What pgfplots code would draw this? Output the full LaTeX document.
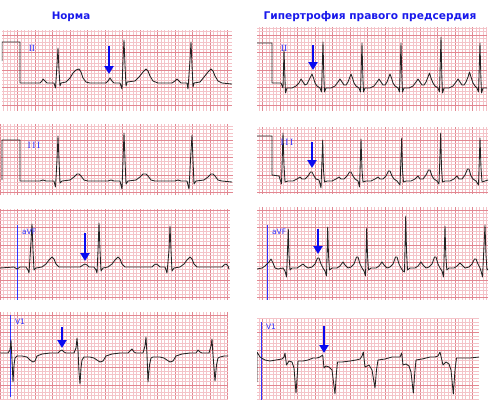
\documentclass[border=0pt]{standalone}
\usepackage{pgfplots}
\pgfplotsset{compat=1.18}
\usepackage{fontspec}
\setmainfont{DejaVu Sans}
\newfontfamily\lblserif{Liberation Serif}
\usetikzlibrary{arrows.meta}
\definecolor{majc}{RGB}{226,135,145}
\definecolor{minc}{RGB}{244,196,201}
\definecolor{ttl}{RGB}{25,25,235}
\definecolor{lbl}{RGB}{50,50,255}
\definecolor{arr}{RGB}{10,10,240}
\definecolor{trc}{RGB}{35,35,35}
\pgfplotsset{ecg/.style={scale only axis, anchor=north west, y dir=reverse,
  enlargelimits=false,
  xtick distance=17.5, ytick distance=17.5,
  minor x tick num=4, minor y tick num=4,
  grid=both,
  major grid style={color=majc, line width=0.6pt},
  minor grid style={color=minc, line width=0.45pt},
  xticklabels={}, yticklabels={},
  major tick length=0pt, minor tick length=0pt,
  axis line style={draw=none}},
  trace/.style={color=trc, line width=0.85pt, no marks, line join=round}}
\newcommand{\ecgarrow}[3]{\draw[-{Triangle[width=9pt,length=8pt]}, line width=2.6pt, arr] (axis cs:#1,#2) -- (axis cs:#1,#3);}
\begin{document}
\begin{tikzpicture}
\path[use as bounding box] (0pt,0pt) rectangle (495pt,-400pt);
\node[font=\bfseries\fontsize{10.3}{10.3}\selectfont, text=ttl] at (71pt,-17pt) {Норма};
\node[font=\bfseries\fontsize{10.6}{10.6}\selectfont, text=ttl] at (370pt,-17pt) {Гипертрофия правого предсердия};

% A: left II
\begin{axis}[ecg, at={(2pt,-30pt)}, width=230pt, height=81pt, xmin=2, xmax=232, ymin=30, ymax=111]
\addplot[trace] coordinates {(2,61)(2,42)(20,42)(20,83)(40,83)(42,81)(43,79)(45,81)(47,83)(54,83)(55.5,88)(57,65)(58,48)(59,70)(60,86)(61,83)(66,82)(70,78)(73,73)(76,70)(79,69)(81,72)(83,78)(86,82)(90,83)(106,83)(108,81)(110,78)(112,81)(114,83)(120,83)(122,89)(123,60)(124,40)(125,65)(126,86)(127,82)(135,81)(139,77)(143,72)(146,69)(148,71)(150,76)(153,81)(158,83)(172,83)(175,81)(177,79)(179,81)(181,83)(187,83)(188,89)(190,60)(191,42)(192,65)(193,87)(194,83)(200,82)(204,77)(208,72)(211,69)(213,71)(215,76)(218,81)(222,83)(232,84)};
\node[text=lbl, font=\lblserif\fontsize{9.5}{9.5}\selectfont] at (axis cs:32,48) {II};
\ecgarrow{109}{46}{74}
\end{axis}

% B: right II
\begin{axis}[ecg, at={(257pt,-27pt)}, width=230pt, height=84pt, xmin=257, xmax=487, ymin=27, ymax=111]
\addplot[trace] coordinates {(257,43)(272,43)(272,83)(281,83)(283,88)(284,50)(285,80)(285.5,93)(287,88)(292,88)(296,86)(299,83)(301,79)(303,82)(305,85)(307,84)(309,80)(310.5,77)(312,74)(313.5,78)(315,83)(317,86)(320,88)(321.5,92)(323,42)(323.8,75)(324.5,92)(326,88)(331,88)(335,86)(338,82)(340,79)(342,82)(344,85)(346,85)(348,82)(349.5,78)(351,74)(352.5,78)(354,83)(356,86)(359,88)(360.5,92)(362,43)(362.8,75)(363.5,92)(365,88)(370,88)(374,86)(377,82)(379,79)(381,82)(383,85)(385,85)(387,82)(388.5,78)(390,74)(391.5,78)(393,83)(395,86)(398,88)(399.5,92)(401,43)(401.8,75)(402.5,92)(404,88)(409,88)(413,86)(416,82)(418,79)(420,82)(422,85)(424,85)(426,82)(428,77)(429.5,73)(431,78)(433,83)(435,86)(438,88)(439.5,92)(441,37)(441.8,75)(442.5,93)(444,88)(449,88)(453,86)(456,82)(458,79)(460,82)(462,85)(464,85)(466,82)(468,77)(469.5,72)(471,77)(473,83)(475,86)(477,88)(478.5,92)(480,43)(480.8,75)(481.5,93)(483,88)(487,88)};
\node[text=lbl, font=\lblserif\fontsize{9.5}{9.5}\selectfont] at (axis cs:284,48) {II};
\ecgarrow{313}{45}{70}
\end{axis}

% C: left III
\begin{axis}[ecg, at={(0pt,-124pt)}, width=233pt, height=71pt, xmin=0, xmax=233, ymin=124, ymax=195]
\addplot[trace] coordinates {(2,180)(2,140)(20,140)(20,181)(40,181)(43,180)(46,181)(54,181)(55.5,187)(57,160)(58,136)(59,160)(60,183)(62,181)(70,180)(74,177)(77,174)(79,174)(81,176)(84,180)(88,181)(108,181)(111,180)(114,181)(120,181)(122,189)(123,160)(124,133)(125,160)(126,184)(128,181)(136,180)(140,177)(143,174)(146,174)(148,176)(151,180)(155,181)(175,181)(178,180)(181,181)(187,181)(189,189)(190.5,160)(192,135)(193,160)(194,184)(196,181)(204,180)(208,177)(211,174)(213,174)(215,176)(218,180)(222,181)(232,182)};
\node[text=lbl, font=\lblserif\fontsize{9.5}{9.5}\selectfont] at (axis cs:34,145) {I\,I\,I};
\end{axis}

% D: right III
\begin{axis}[ecg, at={(257pt,-127pt)}, width=231pt, height=67pt, xmin=257, xmax=488, ymin=127, ymax=194]
\addplot[trace] coordinates {(257,136)(272,136)(272,175)(279,176)(281.5,184)(283,133)(284,165)(285,182)(288,181)(293,181)(297,179)(300,177)(302,179)(305,179)(308,176)(310.5,172)(312,172)(314,176)(316,179)(319,180)(321,188)(322.7,140)(323.5,170)(324.5,182)(327,181)(332,181)(336,179)(339,177)(341,179)(344,179)(347,176)(349.5,172)(351,172)(353,176)(355,179)(358,181)(359.5,187)(361,139)(362,170)(363,182)(366,181)(371,181)(375,179)(378,177)(380,179)(383,179)(386,176)(388.5,171)(390,171)(392,176)(394,179)(397,181)(400,185)(401.7,138)(402.5,170)(403.5,182)(406,181)(411,181)(415,179)(418,176)(420,179)(423,179)(426,175)(428.5,170)(430,170)(432,176)(434,179)(437,181)(439,184)(440.7,133)(441.5,168)(442.5,182)(445,181)(450,181)(454,179)(457,176)(459,179)(462,179)(465,175)(467.5,169)(469,169)(471,176)(473,179)(476,181)(478.5,185)(480,138)(481,168)(482,182)(485,181)(488,180)};
\node[text=lbl, font=\lblserif\fontsize{9.5}{9.5}\selectfont] at (axis cs:287,142) {I\,I\,I};
\ecgarrow{312}{142}{168}
\end{axis}

% E: left aVF
\begin{axis}[ecg, at={(0pt,-209pt)}, width=230pt, height=91pt, xmin=0, xmax=230, ymin=209, ymax=300]
\draw[lbl, line width=0.8pt] (axis cs:17,225) -- (axis cs:17,300);
\addplot[trace] coordinates {(0,268)(14,267)(17,269)(20,267)(26,267)(28,270)(29,273)(30.5,250)(32,224)(33,250)(34,270)(36,268)(42,267)(46,264)(49,260)(52,257)(54,259)(56,264)(59,267)(63,267)(80,267)(83,265)(85,264)(87,265)(89,267)(94,267)(96,270)(97,273)(98,250)(99,223)(100,250)(101,271)(103,268)(108,267)(112,264)(115,260)(118,257)(120,259)(122,264)(125,267)(130,267)(152,267)(154,265)(156,264)(158,265)(160,267)(165,267)(167,273)(169,250)(170,226)(171,250)(172,271)(174,268)(180,267)(184,264)(187,260)(190,257)(192,259)(194,264)(197,267)(202,267)(222,267)(224,265)(226,264)(228,266)(229,269)};
\node[text=lbl, font=\fontsize{7.5}{7.5}\selectfont, anchor=west] at (axis cs:18.5,232) {aVF};
\ecgarrow{85}{233}{261}
\end{axis}

% F: right aVF
\begin{axis}[ecg, at={(257pt,-207pt)}, width=231pt, height=93pt, xmin=257, xmax=488, ymin=207, ymax=300]
\draw[lbl, line width=0.8pt] (axis cs:267,225) -- (axis cs:267,300);
\addplot[trace] coordinates {(257,269)(262,268)(265,266)(269,262)(271,259)(273,263)(275,268)(278,269)(283,268)(285,271)(286.5,277)(288.3,229)(289,255)(290,270)(292,268)(297,268)(300,266)(303,264)(305,266)(308,268)(312,267)(315,264)(317.5,258)(319,258)(321,264)(323,268)(325,271)(326.5,276)(327.7,227)(328.5,255)(329.5,270)(332,268)(337,268)(340,266)(343,262)(345,265)(348,268)(351,267)(354,264)(356.5,257)(358,257)(360,264)(362,268)(364,271)(365.5,276)(366.7,228)(367.5,255)(368.5,270)(371,268)(376,268)(379,266)(382,262)(384,265)(387,268)(390,267)(393,264)(395.5,257)(397,257)(399,264)(401,268)(403,271)(404.5,272)(405.7,216)(406.5,250)(407.5,270)(410,268)(415,268)(418,266)(421,262)(423,265)(426,268)(429,267)(432,264)(434.5,257)(436,257)(438,264)(440,268)(442,271)(443.5,277)(445,226)(445.8,255)(446.8,270)(449,268)(454,268)(457,266)(460,263)(462,265)(465,268)(469,267)(472,264)(474.5,259)(476,259)(478,264)(480,268)(481,271)(482.5,277)(485,225)(486,255)(487,270)(488,269)};
\node[text=lbl, font=\fontsize{7.5}{7.5}\selectfont, anchor=west] at (axis cs:268.5,232) {aVF};
\ecgarrow{318}{229}{254}
\end{axis}

% G: left V1
\begin{axis}[ecg, at={(0pt,-312pt)}, width=228pt, height=88pt, xmin=0, xmax=228, ymin=312, ymax=400]
\draw[lbl, line width=0.8pt] (axis cs:10,315) -- (axis cs:10,397);
\addplot[trace] coordinates {(0,353)(8,353)(10,350)(11,340)(12,360)(13,382)(14,365)(15,358)(17,356)(22,356)(27,357)(30,360)(33,362)(35,361)(37,356)(42,354)(50,353)(58,353)(60,351)(62,350)(64,352)(66,353)(74,353)(76,348)(77,338)(78,350)(79,372)(80,384)(81,368)(82,360)(84,357)(90,357)(94,358)(97,360)(100,362)(103,361)(106,356)(112,354)(120,353)(128,353)(130,351)(132,349)(134,352)(136,353)(143,353)(145,346)(146,337)(147,355)(148,382)(149.5,365)(151,358)(153,357)(160,357)(164,358)(167,360)(170,362)(173,361)(176,356)(182,354)(190,353)(196,353)(198,350)(200,352)(202,353)(209,353)(211,346)(212,339)(213,355)(215,381)(216.5,365)(218,358)(220,357)(224,356)(228,356)};
\node[text=lbl, font=\fontsize{7.5}{7.5}\selectfont, anchor=west] at (axis cs:11.5,322) {V1};
\ecgarrow{62}{327}{348}
\end{axis}

% H: right V1
\begin{axis}[ecg, at={(257pt,-318pt)}, width=222pt, height=82pt, xmin=257, xmax=479, ymin=318, ymax=400]
\draw[lbl, line width=0.8pt] (axis cs:261,322) -- (axis cs:261,400);
\addplot[trace] coordinates {(257,382)(257,352)(260,357)(265,360)(270,361)(276,360)(282,359)(284,357)(285,353)(286.5,365)(289,361)(292,362)(294,368)(296,393)(297.5,372)(298,361)(303,361)(308,360)(313,358)(317,358)(320,357)(322.7,355)(324,368)(326,366)(329,367)(332,370)(335,394)(336.5,372)(337.5,362)(342,362)(350,361)(356,360)(360,359)(362,356)(363.3,352)(365,367)(369,365)(372,370)(375,388)(376.5,370)(378,360)(385,359)(392,357)(397,357)(400,357)(401.7,353)(403,365)(406,364)(409,366)(411,372)(413.3,393)(415,370)(416,360)(422,359)(430,357)(435,357)(438,356)(440,352)(443,365)(446,362)(449,364)(451,370)(453.3,394)(455,370)(456.5,358)(462,358)(470,358)(479,357)};
\node[text=lbl, font=\fontsize{7.5}{7.5}\selectfont, anchor=west] at (axis cs:262.5,327) {V1};
\ecgarrow{324}{326}{353}
\end{axis}
\end{tikzpicture}
\end{document}
